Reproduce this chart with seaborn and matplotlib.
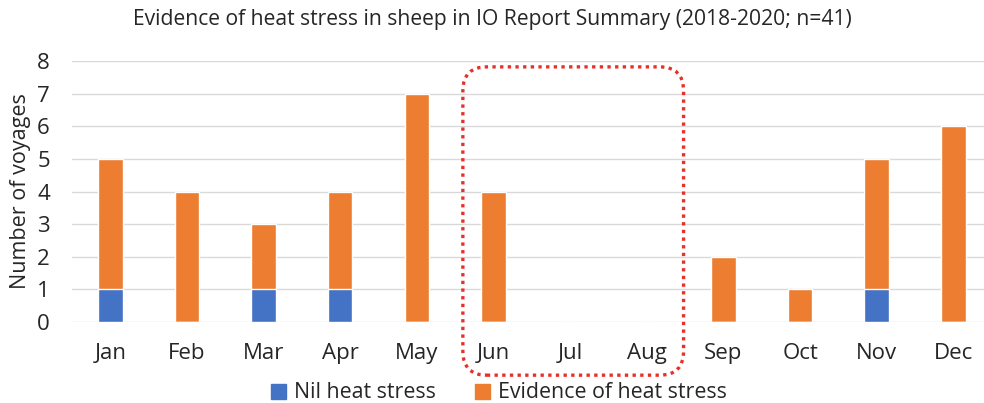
import matplotlib
matplotlib.use("Agg")
import matplotlib.pyplot as plt
from matplotlib.patches import FancyBboxPatch, Patch
import pandas as pd
import seaborn as sns

# ── Data ──────────────────────────────────────────────────────────────────────
MONTHS   = ["Jan", "Feb", "Mar", "Apr", "May", "Jun",
            "Jul", "Aug", "Sep", "Oct", "Nov", "Dec"]
NIL      = [1, 0, 1, 1, 0, 0, 0, 0, 0, 0, 1, 0]
EVIDENCE = [4, 4, 2, 3, 7, 4, 0, 0, 2, 1, 4, 6]
Y_TICKS  = list(range(0, 9))

BLUE   = "#4472C4"
ORANGE = "#ED7D31"
FONT   = ["Open Sans", "DejaVu Sans"]

df = pd.DataFrame({"month": MONTHS, "nil": NIL, "evidence": EVIDENCE})
df["total"] = df["nil"] + df["evidence"]

sns.set_theme(style="white")
plt.rcParams["font.family"] = FONT

fig = plt.figure(figsize=(9.84, 4.03), dpi=100)
ax = fig.add_axes([72 / 984, 1 - 322 / 403, 1 - 72 / 984, (322 - 61) / 403])

sns.barplot(data=df, x="month", y="total", color=ORANGE, width=0.32,
            saturation=1, ax=ax, zorder=3)
sns.barplot(data=df, x="month", y="nil", color=BLUE, width=0.32,
            saturation=1, ax=ax, zorder=4)

ax.set_ylim(0, 8)
ax.set_xlim(-0.5, 11.4)
ax.set_yticks(Y_TICKS)
ax.yaxis.grid(True, color="#D9D9D9", linewidth=1)
ax.set_axisbelow(True)
for s in ax.spines.values():
    s.set_visible(False)
ax.tick_params(axis="x", length=0, pad=15, labelsize=16)
ax.tick_params(axis="y", length=0, pad=16, labelsize=16)
ax.set_xlabel("")
ax.set_ylabel("Number of voyages", fontsize=15.5, labelpad=4)

fig.text(0.5, 1 - 20 / 403, "Evidence of heat stress in sheep in IO Report Summary (2018-2020; n=41)",
         ha="center", va="center", fontsize=15.2)

handles = [Patch(color=BLUE, label="Nil heat stress"),
           Patch(color=ORANGE, label="Evidence of heat stress")]
fig.legend(handles=handles, loc="center", bbox_to_anchor=(0.507, 1 - 393 / 403),
           ncol=2, frameon=False, fontsize=15.4, handlelength=0.7, handleheight=0.7,
           columnspacing=1.8, handletextpad=0.4)

# dotted rounded box around Jun-Aug (winter months)
fig.canvas.draw()
x0, y0 = ax.transData.transform((4.6, -1.63))
x1, y1 = ax.transData.transform((7.48, 7.82))
box = FancyBboxPatch((x0, y0), x1 - x0, y1 - y0,
                     boxstyle="round,pad=0,rounding_size=24",
                     transform=None, fill=False, edgecolor="#E8302A",
                     linewidth=2.4, linestyle=(0, (1, 1.3)), zorder=10)
fig.patches.append(box)

fig.savefig("out.png", dpi=100)
